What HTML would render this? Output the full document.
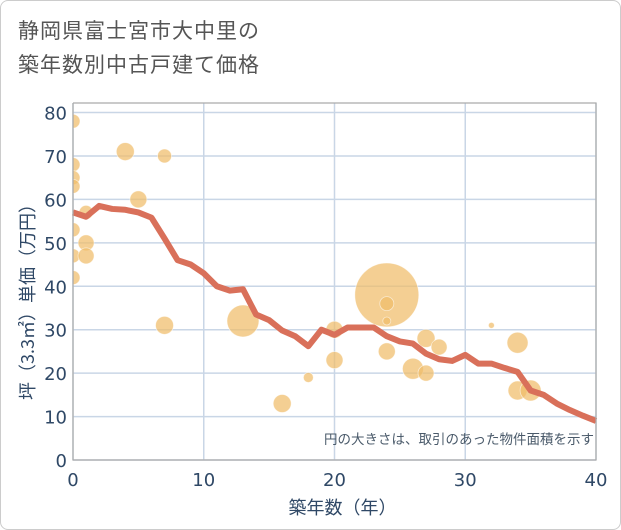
<!DOCTYPE html>
<html><head><meta charset="utf-8"><style>
body{margin:0;background:#fff;font-family:"DejaVu Sans","Noto Sans CJK JP",sans-serif}
#wrap{position:relative;width:619px;height:528px;border:1px solid #ccc;border-radius:8px;background:#fff}
h1{position:absolute;left:17px;top:12px;margin:0;font-weight:normal;font-size:21px;line-height:34px;color:#555;letter-spacing:1px;font-family:"Noto Sans CJK JP",sans-serif}
</style></head><body>
<div id="wrap">
<h1>静岡県富士宮市大中里の<br>築年数別中古戸建て価格</h1>
<svg id="c" width="621" height="530" style="position:absolute;left:-1px;top:-1px"></svg>
</div>
<script>
const lineX=[0,1,2,3,4,5,6,7,8,9,10,11,12,13,14,15,16,17,18,19,20,21,22,23,24,25,26,27,28,29,30,31,32,33,34,35,36,37,38,39,40];
const lineY=[57,56,58.5,57.8,57.6,57,55.8,51,46,45,43,40,39,39.3,33.5,32.2,29.8,28.5,26.2,30,28.8,30.5,30.5,30.5,28.5,27.3,26.8,24.5,23.2,22.8,24.2,22.2,22.2,21.2,20.3,16,15,13,11.5,10.2,9];
const bubX=[0,0,0,0,0,0,0,1,1,1,4,5,7,7,13,16,18,20,20,24,24,24,24,26,27,27,28,32,34,34,35];
const bubY=[78,68,65,63,53,47,42,57,50,47,71,60,70,31,32,13,19,30,23,38,36,32,25,21,28,20,26,31,27,16,16];
const bubR=[7,7,7,7,7,7,7,7,8,8,9,8.5,7,9,16,9,5,8.5,8.5,32,7,4,8.5,10.5,9,8,8,3,10.5,9.5,10.5];
const xTicks=[0,10,20,30,40];
const yTicks=[0,10,20,30,40,50,60,70,80];
const L=73,R=596,T=103,B=460;
const sx=v=>L+(v/40)*(R-L), sy=v=>B-(v/80)*(B-112.5);
const svg=document.getElementById('c'),NS='http://www.w3.org/2000/svg';
function mk(t,a,p){const e=document.createElementNS(NS,t);for(const k in a)e.setAttribute(k,a[k]);(p||svg).appendChild(e);return e;}
const cp=mk('clipPath',{id:'clip'});mk('rect',{x:L,y:T,width:R-L,height:B-T},cp);
yTicks.forEach(v=>{
const g=mk('line',{x1:L,x2:R,y1:sy(v),y2:sy(v),stroke:'#c9d6e6','stroke-width':1.5});


const t=mk('text',{x:L-6,y:sy(v)+7,'text-anchor':'end','font-size':18,fill:'#2f4866'});t.textContent=v;


});
xTicks.forEach(v=>{
const g=mk('line',{x1:sx(v),x2:sx(v),y1:T,y2:B,stroke:'#c9d6e6','stroke-width':1.5});


const t=mk('text',{x:sx(v),y:B+26,'text-anchor':'middle','font-size':18,fill:'#2f4866'});t.textContent=v;


});
const gB=mk('g',{'clip-path':'url(#clip)'});
bubX.forEach((x,i)=>{
const c=mk('circle',{cx:sx(x),cy:sy(bubY[i]),r:bubR[i],fill:'rgba(240,188,105,0.72)',stroke:'rgba(255,255,255,0.6)','stroke-width':0.8},gB);


});
const p=mk('polyline',{points:lineX.map((x,i)=>sx(x)+','+sy(lineY[i])).join(' '),fill:'none',stroke:'#d9705a','stroke-width':6,'stroke-linejoin':'round'});


const ax=mk('path',{d:`M${L} ${T}V${B}H${R}V${T}H${L}`,fill:'none',stroke:'#aaa','stroke-width':1.2});


const n=mk('text',{x:R-2,y:444,'text-anchor':'end','font-size':13.5,fill:'#4a5a6a','font-family':'Noto Sans CJK JP, sans-serif'});n.textContent='円の大きさは、取引のあった物件面積を示す';


const xt=mk('text',{x:(L+R)/2+8,y:514,'text-anchor':'middle','font-size':18,fill:'#2f4866','font-family':'Noto Sans CJK JP, sans-serif'});xt.textContent='築年数（年）';


const yt=mk('text',{x:0,y:0,'text-anchor':'middle','font-size':18,fill:'#2f4866','font-family':'Noto Sans CJK JP, sans-serif',transform:`translate(34,${(T+B)/2+16}) rotate(-90)`});yt.textContent='坪（3.3㎡）単価（万円）';


</script>
</body></html>
